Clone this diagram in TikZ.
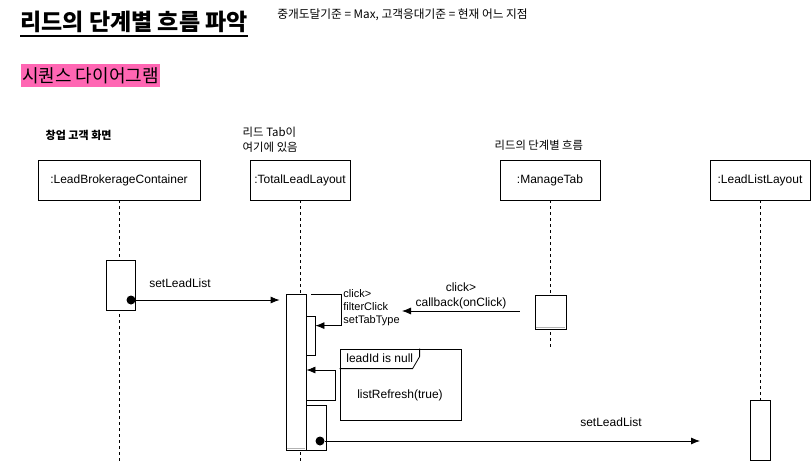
\documentclass[tikz,border=0pt]{standalone}
\usepackage{fontspec}
\setmainfont{Liberation Sans}
\newfontfamily\kr{Noto Sans CJK KR}
\usetikzlibrary{positioning,arrows.meta}
\definecolor{hotpink}{HTML}{FF66B3}

\tikzset{
  obj/.style={draw, minimum width=100pt, minimum height=40pt},
  life/.style={line width=0.8pt, dash pattern=on 3pt off 3pt},
  actbar/.style={draw, fill=white, inner sep=0pt},
  dot/.style={circle, fill, inner sep=0pt, minimum size=9pt},
  msg/.style={->},
}

\begin{document}
\begin{tikzpicture}[x=1pt, y=-1pt, >={Latex[length=9pt,width=7pt]}, line width=0.8pt, font=\fontsize{12}{14}\selectfont]
    \useasboundingbox (0,0) rectangle (811,461);
    % headings
    \node[anchor=west, inner sep=0pt, font=\kr\bfseries\fontsize{23}{27}\selectfont] (title) at (20,22) {리드의 단계별 흐름 파악};
    \draw[line width=1.6pt] (title.west |- 0,36) -- (title.east |- 0,36);
    \node[anchor=west, inner sep=0pt, font=\kr\fontsize{11.7}{13}\selectfont] (note) at (277,15) {중개도달기준 = Max, 고객응대기준 = 현재 어느 지점};
    \node[fill=hotpink, inner sep=0pt, minimum width=139pt, minimum height=23pt, font=\kr\fontsize{18}{21}\selectfont] (seqTitle) at (90.5,75.5) {시퀀스 다이어그램};

    % objects
    \node[obj, minimum width=162pt] (lbc) at (119,180) {:LeadBrokerageContainer};
    \node[obj] (tll) at (300,180) {:TotalLeadLayout};
    \node[obj] (mt) at (550,180) {:ManageTab};
    \node[obj] (lll) at (760,180) {:LeadListLayout};
    \node[anchor=west, font=\kr\bfseries\fontsize{11}{13}\selectfont] (lbcNote) at (42,135) {창업 고객 화면};
    \node[anchor=west, align=left, font=\kr\fontsize{11.4}{15}\selectfont] (tllNote) at (239,140) {리드 Tab이\\여기에 있음};
    \node[anchor=west, font=\kr\fontsize{11.3}{13}\selectfont] (mtNote) at (491,145) {리드의 단계별 흐름};

    % lifelines
    \foreach \o in {lbc,tll,lll}
      \draw[life] (\o.south) -- (\o.south |- 0,461);
    \draw[life] (mt.south) -- ++(0,147);

    % activations
    \node[actbar, minimum width=29pt, minimum height=50pt] (lbcAct) at (120.5,285) {};
    \node[actbar, minimum width=20pt, minimum height=156pt] (tllAct) at (296,372) {};
    \node[actbar, minimum width=9pt, minimum height=39pt] (tllSub1) at (310.5,335.5) {};
    \node[actbar, minimum width=20pt, minimum height=45pt] (tllSub2) at (316,427.5) {};
    \node[actbar, minimum width=31pt, minimum height=34pt] (mtAct) at (550.5,312) {};
    \node[actbar, minimum width=20pt, minimum height=60pt] (lllAct) at (760,430) {};
    \draw[gray!60, line width=1pt] ([xshift=1pt,yshift=2pt]tllAct.south west) -- ([xshift=-1pt,yshift=2pt]tllAct.south east);
    \draw[gray!60, line width=1pt] ([xshift=1pt,yshift=1.5pt]mtAct.south west) -- ([xshift=-1pt,yshift=1.5pt]mtAct.south east);

    % setLeadList from container
    \node[dot] (d1) at (131,300) {};
    \draw[msg, shorten >=6pt] (d1) -- (d1 -| tllAct.west);
    \node (m1) at (180,283) {setLeadList};

    % self calls
    \draw[msg] ([xshift=5pt,yshift=-1pt]tllAct.north east) -- ++(30,0) |- ([yshift=-10pt]tllSub1.north east);
    \node[anchor=west, align=left, inner sep=1pt, font=\fontsize{11}{13}\selectfont] (m2) at (342,308) {click>\\filterClick\\setTabType};
    \draw[msg] (tllAct.east |- 0,400) -- ++(29,0) |- (tllAct.east |- 0,370);

    % callback from ManageTab
    \coordinate (cbEnd) at (402,311);
    \draw[msg] ([xshift=-15pt]mtAct.west |- cbEnd) -- (cbEnd);
    \node[align=center, font=\fontsize{12}{15}\selectfont] (m3) at (461,296) {click>\\callback(onClick)};

    % frame
    \node[draw, minimum width=121pt, minimum height=71pt] (frame) at (400.5,384.5) {};
    \draw ([yshift=-20pt]frame.north west) -- ++(73,0) -- ++(7,-12) -- ++(0,-8);
    \node[anchor=west, inner sep=1pt] (fLabel) at (345,358) {leadId is null};
    \node (fBody) at (400,395) {listRefresh(true)};

    % setLeadList to LeadListLayout
    \node[dot] (d2) at (320,441) {};
    \coordinate (d2End) at (700,441);
    \draw[msg] (d2) -- (d2End);
    \node (m4) at (611,422) {setLeadList};
  \end{tikzpicture}
\end{document}
